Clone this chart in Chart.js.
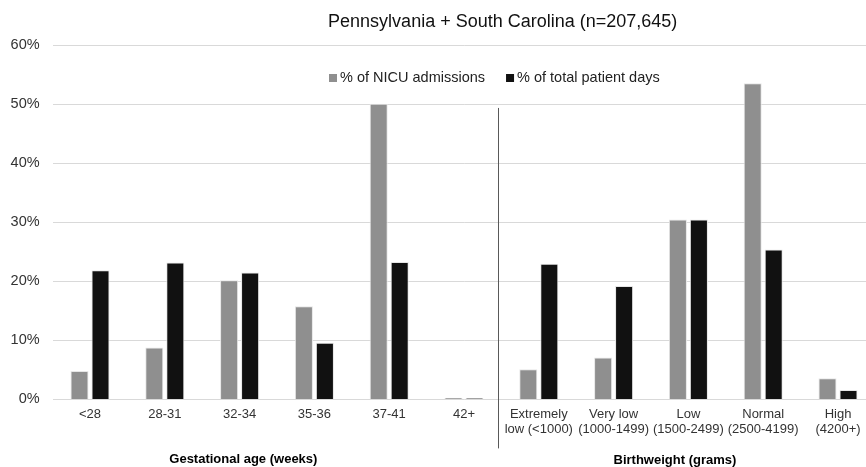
<!DOCTYPE html>
<html>
<head>
<meta charset="utf-8">
<script src="https://cdn.jsdelivr.net/npm/chart.js@4.4.1/dist/chart.umd.min.js"></script>
<style>
    html, body { margin: 0; padding: 0; background: #fff; overflow: hidden; }
    #wrap { width: 866px; height: 467px; overflow: hidden; }
</style>
</head>
<body>
<div id="wrap"><canvas id="chart" width="880" height="467"></canvas></div>
<script>
// categories: gestational age groups, then birthweight groups
const categories = [
    '<28', '28-31', '32-34', '35-36', '37-41', '42+',
    ['Extremely', 'low (<1000)'], ['Very low', '(1000-1499)'], ['Low', '(1500-2499)'],
    ['Normal', '(2500-4199)'], ['High', '(4200+)']
];
const nicuAdmissions = [4.8, 8.8, 20.2, 15.8, 50.1, 0.3, 5.1, 7.1, 30.5, 53.6, 3.6];
const patientDays = [21.9, 23.2, 21.5, 9.6, 23.3, 0.2, 23.0, 19.2, 30.5, 25.4, 1.6];
const seriesNames = ['% of NICU admissions', '% of total patient days'];
const groupNames = ['Gestational age (weeks)', 'Birthweight (grams)'];
const yTicks = [0, 10, 20, 30, 40, 50, 60];
const titleText = 'Pennsylvania + South Carolina (n=207,645)';

const FONT = '"Liberation Sans", Arial, sans-serif';

// extra drawing: title shift, legend inside the plot, divider and group labels
const decorPlugin = {
    id: 'decor',
    afterLayout: function(chart) {
        // original title sits right of the canvas middle
        chart.titleBlock.left += 65;
        chart.titleBlock.right += 65;
    },
    afterDatasetsDraw: function(chart) {
        const ctx = chart.ctx;
        const x = chart.scales.x;
        const y = chart.scales.y;
        ctx.save();

        // divider between the two groups
        const dx = Math.round(x.getPixelForValue(5.45)) + 0.5;
        ctx.strokeStyle = '#595959';
        ctx.lineWidth = 1;
        ctx.beginPath();
        ctx.moveTo(dx, y.getPixelForValue(49.4));
        ctx.lineTo(dx, chart.chartArea.bottom + 49);
        ctx.stroke();

        // group labels under the ticks
        ctx.fillStyle = '#000';
        ctx.font = 'bold 13px ' + FONT;
        ctx.textAlign = 'center';
        ctx.textBaseline = 'middle';
        ctx.fillText(groupNames[0], x.getPixelForValue(2.05), 459);
        ctx.fillText(groupNames[1], x.getPixelForValue(7.82), 460);

        // legend
        ctx.font = '14.5px ' + FONT;
        ctx.textAlign = 'left';
        let lx = 329;
        const ly = 78;
        chart.data.datasets.forEach(function(ds) {
            ctx.fillStyle = ds.backgroundColor;
            ctx.fillRect(lx, ly - 4, 8, 8);
            ctx.fillStyle = '#222';
            ctx.fillText(ds.label, lx + 11, ly);
            lx += 11 + ctx.measureText(ds.label).width + 21;
        });
        ctx.restore();
    }
};

const ctx = document.getElementById('chart').getContext('2d');
new Chart(ctx, {
    type: 'bar',
    data: {
        labels: categories,
        datasets: [
            {
                label: seriesNames[0],
                data: nicuAdmissions,
                backgroundColor: '#8f8f8f',
                borderColor: '#e6e6e6',
                borderWidth: 1,
                categoryPercentage: 0.5615,
                barPercentage: 0.86
            },
            {
                label: seriesNames[1],
                data: patientDays,
                backgroundColor: '#111111',
                borderColor: '#e6e6e6',
                borderWidth: 1,
                categoryPercentage: 0.5615,
                barPercentage: 0.86
            }
        ]
    },
    options: {
        responsive: false,
        animation: false,
        layout: { padding: { left: 0, right: 4.6, top: 0, bottom: 0 } },
        scales: {
            x: {
                grid: { display: false, drawTicks: false },
                border: { display: false },
                ticks: {
                    color: '#333',
                    font: { family: FONT, size: 13 },
                    padding: 7,
                    maxRotation: 0,
                    autoSkip: false
                },
                afterFit: function(s) { s.height = 67.6; }
            },
            y: {
                min: 0,
                max: 60,
                grid: { color: '#d9d9d9', drawTicks: false },
                border: { display: false },
                afterBuildTicks: function(s) { s.ticks = yTicks.map(v => ({ value: v })); },
                ticks: {
                    color: '#333',
                    font: { family: FONT, size: 14.5 },
                    padding: 13,
                    callback: v => v + '%'
                },
                afterFit: function(s) { s.width = 52.6; }
            }
        },
        plugins: {
            legend: { display: false },
            tooltip: { enabled: false },
            title: {
                display: true,
                text: titleText,
                color: '#111',
                font: { family: FONT, size: 18, weight: 'normal' },
                padding: { top: 11, bottom: 12.8 }
            }
        }
    },
    plugins: [decorPlugin]
});
</script>
</body>
</html>
